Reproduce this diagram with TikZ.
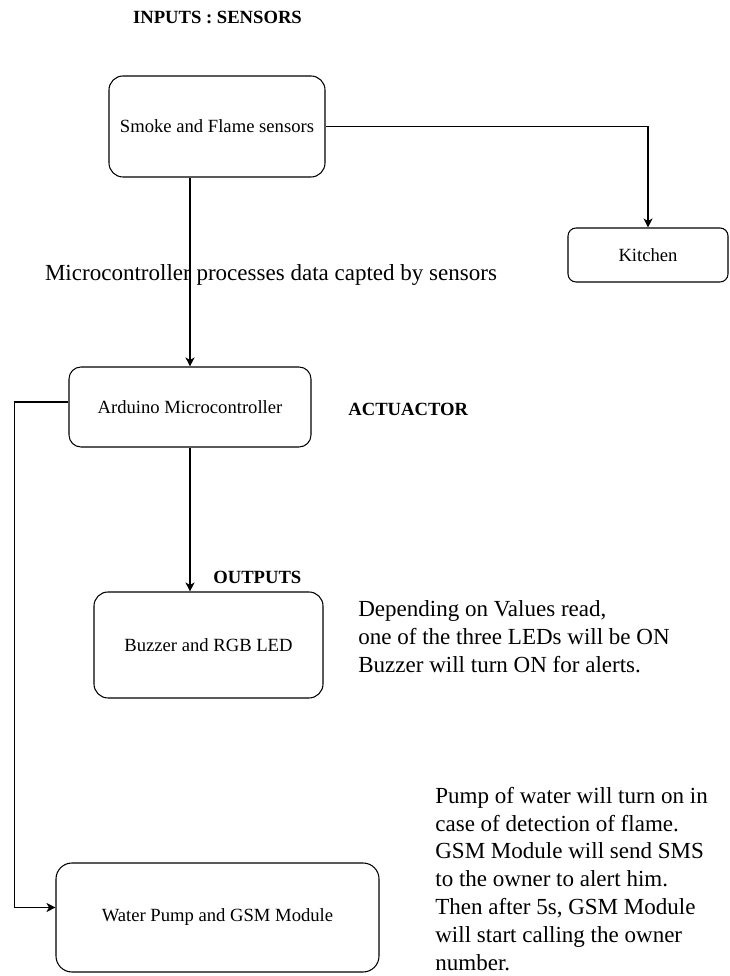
\documentclass[tikz,border=0pt]{standalone}
\usepackage{fontspec}
\setmainfont{Liberation Serif}
\usetikzlibrary{arrows.meta, positioning}

\begin{document}
\begin{tikzpicture}[
  box/.style={draw, rounded corners=0.28cm, line width=0.6pt, align=center, inner sep=0pt, font=\fontsize{10.6}{12.7}\selectfont},
  head/.style={font=\fontsize{10.6}{12.7}\selectfont\bfseries},
  note/.style={align=left, anchor=west, inner sep=0pt, font=\fontsize{13.1}{15.9}\selectfont},
  link/.style={line width=0.6pt, -{Stealth[length=1.8mm, width=1.8mm, inset=0.5mm]}}
]
  \useasboundingbox (0,0) rectangle (14.58,19.52);

  % Inputs
  \node[head] (inhead) at (4.35,19.18) {INPUTS : SENSORS};
  \node[box, minimum width=4.32cm, minimum height=2.02cm] (smoke) at (4.34,16.99) {Smoke and Flame sensors};
  \node[box, rounded corners=0.16cm, minimum width=3.2cm, minimum height=1.08cm] (kitchen) at (12.96,14.42) {Kitchen};
  \node[note, anchor=center] (proc) at (5.42,14.02) {Microcontroller processes data capted by sensors};

  % Microcontroller
  \node[box, rounded corners=0.24cm, minimum width=4.84cm, minimum height=1.6cm] (ard) at (3.80,11.38) {Arduino Microcontroller};
  \node[head, anchor=west, inner sep=0pt] (acthead) at (6.96,11.34) {ACTUACTOR};

  % Outputs
  \node[head, anchor=west, inner sep=0pt] (outhead) at (4.26,7.98) {OUTPUTS};
  \node[box, minimum width=4.58cm, minimum height=2.12cm] (buz) at (4.17,6.62) {Buzzer and RGB LED};
  \node[note] (buznote) at (7.16,6.78) {Depending on Values read,\\one of the three LEDs will be ON\\Buzzer will turn ON for alerts.};
  \node[box, rounded corners=0.32cm, minimum width=6.46cm, minimum height=2.18cm] (water) at (4.35,1.17) {Water Pump and GSM Module};
  \node[note] (waternote) at (8.70,1.94) {Pump of water will turn on in\\case of detection of flame.\\GSM Module will send SMS\\to the owner to alert him.\\Then after 5s, GSM Module\\will start calling the owner\\number.};

  % Connectors
  \draw[link] (smoke.east) -| (kitchen.north);
  \draw[link] (smoke.south -| ard.north) -- (ard.north);
  \draw[link] (ard.south) -- (ard.south |- buz.north);
  \draw[link] ([yshift=1mm]ard.west) -- ++(-1.08,0) |- ([yshift=2mm]water.west);
\end{tikzpicture}
\end{document}
